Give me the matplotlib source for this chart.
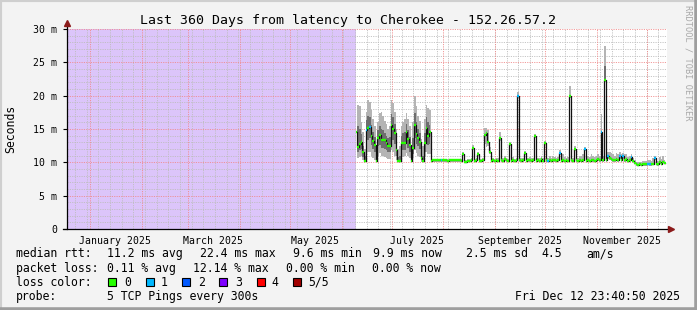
import datetime as dt
import matplotlib
matplotlib.use('Agg')
import matplotlib.pyplot as plt
from matplotlib.patches import Rectangle
from matplotlib.lines import Line2D

W, H = 697, 310
MONO = 'DejaVu Sans Mono'

# ---- data (milliseconds, one sample per day from 2025-06-10) ----
first_day = dt.datetime(2025, 6, 10)
graph_end = dt.datetime(2025, 12, 12, 23, 40, 50)
graph_start = graph_end - dt.timedelta(days=360)

median = [
    14.6, 12.3, 12.8, 13.1, 11.5, 10.2, 14.9, 15.1, 15.3, 14.0,
    13.2, 12.6, 10.2, 13.6, 14.1, 13.3, 13.3, 13.3, 12.9, 12.5,
    12.5, 15.6, 15.0, 14.4, 11.8, 10.2, 10.2, 12.9, 12.9, 12.9,
    14.6, 13.5, 12.6, 10.2, 12.1, 15.6, 14.2, 13.7, 13.1, 10.6,
    10.2, 12.9, 15.2, 13.9, 14.6, 10.2, 10.3, 10.3, 10.3, 10.3,
    10.3, 10.3, 10.3, 10.3, 10.3, 10.2, 10.3, 10.3, 10.3, 10.3,
    10.3, 10.3, 10.3, 10.2, 11.2, 10.1, 10.1, 10.2, 10.2, 10.3,
    12.1, 10.2, 10.3, 11.2, 10.2, 10.2, 10.3, 14.1, 14.4, 13.1,
    11.6, 10.2, 10.3, 10.2, 10.3, 10.2, 13.6, 10.3, 10.2, 10.5,
    10.3, 10.2, 12.8, 10.2, 10.3, 10.2, 10.3, 19.9, 10.3, 10.2,
    10.3, 11.4, 10.2, 10.3, 10.3, 10.2, 10.3, 13.9, 10.2, 10.3,
    10.2, 10.5, 10.2, 12.9, 10.3, 10.2, 10.3, 10.2, 10.4, 10.3,
    10.2, 10.3, 11.4, 10.2, 10.3, 10.2, 10.3, 10.2, 19.9, 10.3,
    10.2, 12.0, 10.3, 10.2, 10.3, 10.2, 10.4, 12.0, 10.2, 10.3,
    10.2, 10.3, 10.3, 10.2, 10.3, 10.5, 10.3, 14.6, 10.3, 22.4,
    10.3, 10.9, 10.6, 10.5, 10.4, 10.3, 10.5, 10.3, 10.9, 10.4,
    10.9, 10.3, 10.5, 10.2, 10.3, 10.8, 10.2, 9.9, 9.7, 9.6,
    9.7, 9.6, 9.7, 9.7, 9.7, 9.8, 9.7, 9.7, 9.8, 10.6,
    9.8, 9.7, 10.0, 9.8, 10.1, 9.9,
]

smoke_lo = [
    10.8, 10.6, 10.8, 10.9, 10.3, 10.1, 11.2, 11.6, 11.5, 11.0,
    10.6, 10.4, 10.1, 11.0, 11.4, 11.0, 11.0, 10.8, 10.6, 10.5,
    10.5, 11.8, 11.6, 11.0, 10.4, 10.1, 10.1, 10.8, 10.8, 10.9,
    11.4, 11.0, 10.6, 10.1, 10.6, 11.8, 11.4, 11.0, 10.8, 10.1,
    10.1, 10.8, 11.6, 11.2, 11.2, 10.0, 10.1, 10.1, 10.1, 10.1,
    10.1, 10.1, 10.1, 10.1, 10.1, 10.0, 10.1, 10.1, 10.1, 10.1,
    10.1, 10.1, 10.1, 10.0, 10.9, 9.9, 9.9, 10.0, 10.0, 10.1,
    11.8, 10.0, 10.1, 10.9, 10.0, 10.0, 10.1, 12.8, 12.3, 12.5,
    11.2, 10.0, 10.1, 10.0, 10.1, 10.0, 13.2, 10.1, 10.0, 10.2,
    10.1, 10.0, 12.5, 10.0, 10.1, 10.0, 10.1, 19.6, 10.1, 10.0,
    10.1, 11.1, 10.0, 10.1, 10.1, 10.0, 10.1, 13.6, 10.0, 10.1,
    10.0, 10.2, 10.0, 12.7, 10.1, 10.0, 10.1, 10.0, 10.1, 10.1,
    10.0, 10.1, 11.1, 10.0, 10.1, 10.0, 10.1, 10.0, 19.6, 10.1,
    10.0, 11.7, 10.1, 10.0, 10.1, 10.0, 10.1, 11.7, 10.0, 10.1,
    10.0, 10.1, 10.1, 10.0, 10.1, 10.2, 10.1, 14.4, 10.1, 22.0,
    10.1, 10.5, 10.3, 10.2, 10.1, 10.1, 10.2, 10.1, 10.5, 10.1,
    10.5, 10.1, 10.2, 10.0, 10.1, 10.5, 10.0, 9.7, 9.5, 9.4,
    9.5, 9.4, 9.5, 9.5, 9.5, 9.6, 9.5, 9.5, 9.6, 10.3,
    9.6, 9.5, 9.8, 9.6, 9.9, 9.7,
]

smoke_hi = [
    16.6, 18.6, 18.4, 16.0, 14.5, 12.0, 17.5, 19.4, 19.0, 17.8,
    16.5, 15.5, 12.5, 16.0, 17.4, 17.5, 17.0, 16.2, 15.8, 15.0,
    15.5, 19.3, 18.9, 17.5, 15.0, 12.0, 12.5, 15.5, 16.0, 16.5,
    17.4, 16.5, 15.5, 12.5, 16.0, 19.9, 18.5, 17.0, 16.2, 13.5,
    12.5, 16.5, 18.6, 18.2, 17.8, 10.6, 10.5, 10.5, 10.5, 10.5,
    10.5, 10.5, 10.5, 10.5, 10.5, 10.5, 10.5, 10.5, 10.5, 10.5,
    10.5, 10.5, 10.5, 10.5, 11.6, 10.4, 10.4, 10.5, 10.5, 10.6,
    12.6, 10.5, 10.6, 11.6, 10.5, 10.5, 10.6, 15.1, 15.1, 14.9,
    12.3, 10.6, 10.6, 10.5, 10.6, 10.6, 14.6, 10.8, 10.6, 11.0,
    10.6, 10.5, 13.1, 10.6, 10.8, 10.5, 10.6, 20.6, 10.7, 10.6,
    10.6, 11.7, 10.5, 10.7, 10.8, 10.6, 10.6, 14.2, 10.6, 10.7,
    10.6, 11.0, 10.6, 13.2, 10.8, 10.6, 11.0, 10.7, 11.0, 10.8,
    10.6, 10.8, 11.8, 11.0, 11.2, 10.8, 10.6, 10.8, 21.4, 10.9,
    10.6, 12.4, 10.8, 10.6, 11.0, 11.0, 11.2, 12.3, 11.0, 11.0,
    10.8, 11.2, 11.0, 10.8, 11.0, 11.2, 11.0, 17.3, 11.0, 27.4,
    11.6, 11.6, 11.6, 11.4, 11.2, 11.0, 11.4, 11.2, 11.6, 11.2,
    11.4, 11.2, 11.2, 10.8, 11.0, 11.3, 10.6, 10.3, 10.1, 10.0,
    10.0, 10.0, 10.2, 10.2, 10.2, 10.4, 10.3, 10.2, 10.6, 11.0,
    10.3, 10.2, 10.8, 10.5, 11.0, 10.4,
]

# darker core of the smoke during the noisy weeks (first 45 days)
core_lo = [
    13.2, 11.6, 11.8, 12.0, 10.8, 10.2, 13.0, 13.4, 13.6, 12.6,
    12.0, 11.6, 10.2, 12.4, 12.6, 12.2, 12.2, 12.0, 11.8, 11.5,
    11.5, 13.8, 13.4, 12.8, 11.0, 10.2, 10.2, 11.6, 11.8, 11.8,
    13.0, 12.2, 11.6, 10.2, 11.2, 13.6, 12.8, 12.4, 12.0, 10.3,
    10.2, 11.6, 13.4, 12.6, 12.8,
]
core_hi = [
    15.8, 15.5, 15.0, 14.2, 12.5, 10.9, 16.4, 17.0, 16.8, 15.6,
    14.6, 13.8, 10.8, 14.8, 15.4, 15.0, 14.8, 14.4, 14.0, 13.6,
    13.8, 17.2, 16.8, 15.8, 13.2, 10.8, 11.0, 14.0, 14.4, 14.6,
    15.8, 14.8, 13.8, 10.8, 13.6, 17.4, 16.0, 15.0, 14.4, 11.6,
    11.0, 14.4, 16.8, 16.0, 15.6,
]
peak_day = [dt.datetime(2025, 11, 6)]
peak_core_lo = [22.4]
peak_core_hi = [24.5]

# days where 1 of 5 pings was lost
lossy_days = ['2025-06-16', '2025-06-18', '2025-07-31', '2025-09-15', '2025-10-03',
              '2025-10-10', '2025-10-25', '2025-11-04', '2025-11-08', '2025-11-15',
              '2025-11-17', '2025-11-22', '2025-12-02', '2025-12-03', '2025-12-06']

loss_labels = ['0', '1', '2', '3', '4', '5/5']
loss_colors = ['#26ff00', '#00b8ff', '#0059ff', '#7e00ff', '#ff0000', '#a10000']

y_ticks = [0, 5, 10, 15, 20, 25, 30]
y_tick_labels = ['0', '5 m', '10 m', '15 m', '20 m', '25 m', '30 m']
month_labels = ['January 2025', 'March 2025', 'May 2025', 'July 2025',
                'September 2025', 'November 2025']
month_label_at = [dt.datetime(2025, m, 16) for m in (1, 3, 5, 7, 9, 11)]

dates = [first_day + dt.timedelta(days=i) for i in range(len(median))]
lossy = set(lossy_days)
seg_colors = [loss_colors[1] if d.strftime('%Y-%m-%d') in lossy else loss_colors[0]
              for d in dates]
half = dt.timedelta(hours=12)

# ---- figure ----
fig = plt.figure(figsize=(W / 100, H / 100), dpi=100, facecolor='#f3f3f3')
ax = fig.add_axes([66.5 / W, 1 - 229 / H, 600 / W, 200 / H])
ax.set_facecolor('white')
ax.set_xlim(graph_start, graph_end)
ax.set_ylim(0, 30)
for s in ax.spines.values():
    s.set_visible(False)

# unknown-data area
ax.axvspan(graph_start, first_day - half, color='#dcc5fa', lw=0, zorder=0.5)

# grid
dots = (0, (1.4, 1.4))
d = graph_start.replace(hour=0, minute=0, second=0)
while d < graph_end:
    if d.weekday() == 0:
        ax.axvline(d, color='#bdbdbd', lw=0.6, ls=dots, zorder=1)
    if d.day == 1:
        ax.axvline(d, color='#f08a8a', lw=0.6, ls=dots, zorder=1.1)
    d += dt.timedelta(days=1)
for v in range(1, 31):
    if v % 5:
        ax.axhline(v, color='#bdbdbd', lw=0.6, ls=dots, zorder=1)
    else:
        ax.axhline(v, color='#f08a8a', lw=0.6, ls=dots, zorder=1.1)

# smoke
ax.fill_between(dates, smoke_lo, smoke_hi, step='mid', color='#b4b4b4', lw=0, zorder=2)
ax.fill_between(dates[:len(core_lo)], core_lo, core_hi, step='mid', color='#6e6e6e',
                lw=0, zorder=2.1)
for pd_, lo_, hi_ in zip(peak_day, peak_core_lo, peak_core_hi):
    ax.fill_between([pd_ - half, pd_ + half], [lo_, lo_], [hi_, hi_], color='#6e6e6e',
                    lw=0, zorder=2.1)

# median line
ax.plot(dates, median, drawstyle='steps-mid', color='#111111', lw=0.9, zorder=3)
ax.hlines(median, [x - half for x in dates], [x + half for x in dates],
          colors=seg_colors, lw=1.7, zorder=4)

# axes lines + arrows
ax.add_line(Line2D([0, 0], [0, 1.02], transform=ax.transAxes, color='black', lw=0.9,
                   clip_on=False, zorder=5))
ax.add_line(Line2D([-0.006, 1.006], [0, 0], transform=ax.transAxes, color='black', lw=0.9,
                   clip_on=False, zorder=5))
ax.plot([0], [1.028], marker='^', ms=4.5, color='#8b1a1a', transform=ax.transAxes,
        clip_on=False, zorder=6)
ax.plot([1.008], [0], marker='>', ms=4.5, color='#8b1a1a', transform=ax.transAxes,
        clip_on=False, zorder=6)

# ticks
ax.set_yticks(y_ticks)
ax.set_yticklabels(y_tick_labels, family=MONO, fontsize=7.1)
ax.tick_params(axis='y', length=3, width=0.8, pad=3.5, direction='out')
ax.set_xticks(month_label_at)
ax.set_xticklabels(month_labels, family=MONO, fontsize=7.1)
ax.tick_params(axis='x', length=0, pad=5)


def put(x, y, s, **kw):
    kw.setdefault('family', MONO)
    kw.setdefault('fontsize', 8.3)
    kw.setdefault('va', 'baseline')
    fig.text(x / W, 1 - y / H, s, **kw)


put(348.5, 24, 'Last 360 Days from latency to Cherokee - 152.26.57.2', fontsize=9.5,
    ha='center')
put(11, 129, 'Seconds', rotation=90, ha='center', va='center')
put(688, 5, 'RRDTOOL / TOBI OETIKER', rotation=270, ha='center', va='top',
    fontsize=6.2, color='#a8a8a8')

# legend
put(16, 257.3, 'median rtt:')
for x, s in zip([107.3, 200, 293, 373.3, 465.7, 541.7, 586.7],
                ['11.2 ms avg', '22.4 ms max', '9.6 ms min', '9.9 ms now', '2.5 ms sd',
                 '4.5', 'am/s']):
    put(x, 257.3, s)
put(16, 271.7, 'packet loss:')
for x, s in zip([107.3, 193.3, 286, 372.3],
                ['0.11 % avg', '12.14 % max', '0.00 % min', '0.00 % now']):
    put(x, 271.7, s)
put(16, 285.7, 'loss color:')
for bx, tx, c, s in zip([108, 145.7, 182.3, 219, 256.7, 293.3],
                        [124, 161, 198, 235, 271.7, 308.3], loss_colors, loss_labels):
    fig.add_artist(Rectangle((bx / W, 1 - 285.7 / H), 8 / W, 8 / H, transform=fig.transFigure,
                             facecolor=c, edgecolor='black', lw=0.8))
    put(tx, 285.7, s)
put(16, 300, 'probe:')
put(107.3, 300, '5 TCP Pings every 300s')
put(680, 300, 'Fri Dec 12 23:40:50 2025', ha='right')

# frame around the image
fig.add_artist(Line2D([0, 0, 1], [0, 1, 1], transform=fig.transFigure, color='#cfcfcf', lw=3))
fig.add_artist(Line2D([0, 1, 1], [0, 0, 1], transform=fig.transFigure, color='#9e9e9e', lw=4))

fig.savefig('out.png', dpi=100, facecolor=fig.get_facecolor())
